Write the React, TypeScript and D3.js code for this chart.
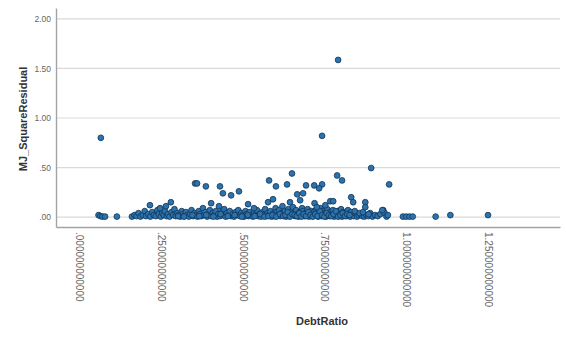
import React, { useEffect, useRef } from 'react';
import * as d3 from 'd3';

// y tick values and their labels (SPSS style)
const yTicks = [0, 0.5, 1, 1.5, 2];
const yTickLabels = ['.00', '.50', '1.00', '1.50', '2.00'];

const xTicks = [0, 0.25, 0.5, 0.75, 1, 1.25];
const xTickLabels = [
  '.000000000000',
  '.250000000000',
  '.500000000000',
  '.750000000000',
  '1.000000000000',
  '1.250000000000',
];

// points that sit clearly above the band near zero
const upperX = [
  0.067, 0.792, 0.743, 0.893, 0.948, 0.651, 0.581, 0.636, 0.602, 0.694, 0.719, 0.743,
  0.734, 0.789, 0.804, 0.667, 0.685, 0.676, 0.768, 0.777, 0.832, 0.838, 0.875, 0.875,
  0.927, 0.217, 0.248, 0.266, 0.281, 0.355, 0.361, 0.388, 0.431, 0.44, 0.465, 0.489,
  0.404, 0.517, 0.535, 0.428, 0.578, 0.593, 0.645, 0.72, 0.727, 0.753,
];
const upperY = [
  0.8, 1.586, 0.82, 0.495, 0.33, 0.44, 0.37, 0.33, 0.31, 0.32, 0.32, 0.33,
  0.29, 0.42, 0.37, 0.23, 0.24, 0.17, 0.16, 0.16, 0.2, 0.15, 0.15, 0.1,
  0.07, 0.12, 0.09, 0.11, 0.15, 0.34, 0.34, 0.31, 0.31, 0.24, 0.22, 0.26,
  0.14, 0.13, 0.09, 0.11, 0.15, 0.18, 0.15, 0.14, 0.1, 0.12,
];

// the dense band of residuals close to zero
const bandX = [
  0.06, 0.066, 0.072, 0.08, 0.116, 0.162, 0.17, 0.176, 0.182, 0.188, 0.195, 0.201,
  0.205, 0.212, 0.218, 0.224, 0.229, 0.235, 0.24, 0.244, 0.25, 0.255, 0.259, 0.263,
  0.268, 0.272, 0.277, 0.283, 0.288, 0.292, 0.296, 0.301, 0.305, 0.31, 0.314, 0.318,
  0.322, 0.327, 0.331, 0.336, 0.34, 0.344, 0.349, 0.353, 0.357, 0.362, 0.366, 0.37,
  0.374, 0.379, 0.383, 0.387, 0.392, 0.396, 0.4, 0.404, 0.409, 0.413, 0.418, 0.422,
  0.426, 0.431, 0.435, 0.439, 0.444, 0.448, 0.452, 0.457, 0.461, 0.465, 0.47, 0.474,
  0.479, 0.483, 0.487, 0.492, 0.496, 0.5, 0.505, 0.509, 0.513, 0.518, 0.522, 0.526,
  0.531, 0.535, 0.539, 0.544, 0.548, 0.552, 0.556, 0.561, 0.565, 0.569, 0.573, 0.577,
  0.581, 0.585, 0.589, 0.593, 0.597, 0.601, 0.604, 0.608, 0.612, 0.615, 0.619, 0.622,
  0.626, 0.629, 0.633, 0.636, 0.64, 0.643, 0.647, 0.65, 0.654, 0.657, 0.661, 0.664,
  0.668, 0.671, 0.675, 0.678, 0.682, 0.685, 0.689, 0.692, 0.696, 0.699, 0.703, 0.706,
  0.71, 0.713, 0.717, 0.72, 0.724, 0.727, 0.731, 0.734, 0.738, 0.741, 0.745, 0.748,
  0.752, 0.755, 0.759, 0.762, 0.766, 0.769, 0.773, 0.776, 0.78, 0.783, 0.787, 0.79,
  0.794, 0.797, 0.801, 0.804, 0.808, 0.811, 0.815, 0.818, 0.822, 0.825, 0.829, 0.832,
  0.836, 0.84, 0.845, 0.85, 0.855, 0.861, 0.866, 0.872, 0.878, 0.884, 0.89, 0.897,
  0.905, 0.913, 0.921, 0.93, 0.934, 0.94, 0.944, 0.99, 1.0, 1.01, 1.02, 1.09,
  1.135, 1.25,
  0.303, 0.321, 0.347, 0.368, 0.389, 0.411, 0.433, 0.455, 0.476, 0.498, 0.516, 0.537,
  0.554, 0.567, 0.579, 0.591, 0.603, 0.614, 0.624, 0.631, 0.638, 0.645, 0.652, 0.659,
  0.666, 0.673, 0.68, 0.687, 0.694, 0.701, 0.708, 0.715, 0.722, 0.729, 0.736, 0.743,
  0.75, 0.757, 0.764, 0.771, 0.778, 0.785, 0.792, 0.799, 0.806, 0.813, 0.82, 0.827,
  0.843, 0.858, 0.868, 0.885,
];
const bandY = [
  0.02, 0.01, 0.005, 0.005, 0.005, 0.005, 0.02, 0.01, 0.04, 0.005, 0.02, 0.06,
  0.01, 0.03, 0.005, 0.05, 0.02, 0.01, 0.07, 0.03, 0.005, 0.04, 0.02, 0.06,
  0.01, 0.03, 0.005, 0.05, 0.02, 0.08, 0.01, 0.04, 0.02, 0.005, 0.06, 0.03,
  0.01, 0.05, 0.02, 0.005, 0.03, 0.07, 0.01, 0.04, 0.02, 0.005, 0.06, 0.03,
  0.01, 0.09, 0.02, 0.05, 0.005, 0.03, 0.07, 0.01, 0.04, 0.02, 0.06, 0.005,
  0.03, 0.01, 0.05, 0.02, 0.08, 0.005, 0.04, 0.02, 0.06, 0.01, 0.03, 0.005,
  0.05, 0.02, 0.07, 0.01, 0.04, 0.02, 0.005, 0.06, 0.03, 0.01, 0.05, 0.02,
  0.005, 0.04, 0.02, 0.07, 0.01, 0.03, 0.005, 0.05, 0.02, 0.08, 0.01, 0.04,
  0.02, 0.06, 0.005, 0.03, 0.01, 0.09, 0.05, 0.02, 0.07, 0.01, 0.04, 0.11,
  0.02, 0.06, 0.005, 0.03, 0.08, 0.01, 0.05, 0.02, 0.1, 0.04, 0.01, 0.07,
  0.03, 0.005, 0.05, 0.02, 0.09, 0.06, 0.01, 0.04, 0.02, 0.08, 0.005, 0.03,
  0.06, 0.01, 0.05, 0.02, 0.07, 0.04, 0.005, 0.03, 0.09, 0.01, 0.06, 0.02,
  0.04, 0.005, 0.08, 0.03, 0.01, 0.05, 0.02, 0.07, 0.005, 0.04, 0.02, 0.06,
  0.01, 0.03, 0.08, 0.005, 0.05, 0.02, 0.04, 0.01, 0.07, 0.03, 0.005, 0.05,
  0.02, 0.01, 0.04, 0.005, 0.02, 0.03, 0.01, 0.005, 0.02, 0.01, 0.04, 0.005,
  0.02, 0.01, 0.03, 0.07, 0.04, 0.005, 0.02, 0.005, 0.005, 0.005, 0.005, 0.005,
  0.02, 0.02,
  0.01, 0.005, 0.02, 0.01, 0.02, 0.005, 0.03, 0.01, 0.02, 0.005, 0.02, 0.01,
  0.03, 0.005, 0.01, 0.02, 0.005, 0.03, 0.01, 0.02, 0.05, 0.005, 0.03, 0.02,
  0.01, 0.04, 0.005, 0.03, 0.01, 0.05, 0.02, 0.005, 0.03, 0.01, 0.06, 0.02,
  0.005, 0.04, 0.02, 0.01, 0.03, 0.06, 0.005, 0.02, 0.04, 0.01, 0.03, 0.02,
  0.06, 0.04, 0.05, 0.03,
];

const App = () => {
  const svgRef = useRef<SVGSVGElement>(null);

  useEffect(() => {
    const boxWidth = 566;
    const boxHeight = 338;
    const left = 56;
    const right = 560;
    const top = 8;
    const bottom = 227;
    const font = '"Liberation Sans", Arial, sans-serif';

    const svg = d3.select(svgRef.current)
      .attr('width', boxWidth)
      .attr('height', boxHeight);
    svg.selectAll('*').remove();

    const x = d3.scaleLinear().domain([-0.07, 1.47]).range([left, right]);
    const y = d3.scaleLinear().domain([-0.1, 2.11]).range([bottom, top]);

    // horizontal grid lines
    svg.append('g')
      .selectAll('line')
      .data(yTicks)
      .join('line')
      .attr('x1', left)
      .attr('x2', right)
      .attr('y1', d => y(d))
      .attr('y2', d => y(d))
      .attr('stroke', '#d9d9d9')
      .attr('stroke-width', 1.2);

    // y axis
    const yAxis = svg.append('g')
      .attr('transform', `translate(${left},0)`)
      .call(d3.axisLeft(y)
        .tickValues(yTicks)
        .tickSize(0)
        .tickPadding(5)
        .tickFormat((d, i) => yTickLabels[i]));
    yAxis.select('.domain').attr('stroke', '#a3a3a3').attr('stroke-width', 1.4);
    yAxis.selectAll('text')
      .attr('fill', '#666')
      .style('font-family', font)
      .style('font-size', '8.5px');

    // x axis with rotated labels
    const xAxis = svg.append('g')
      .attr('transform', `translate(0,${bottom})`)
      .call(d3.axisBottom(x)
        .tickValues(xTicks)
        .tickSize(0)
        .tickFormat((d, i) => xTickLabels[i]));
    xAxis.select('.domain').attr('stroke', '#a3a3a3').attr('stroke-width', 1.4);
    xAxis.selectAll('text')
      .attr('transform', 'rotate(90)')
      .attr('x', 5)
      .attr('y', 0)
      .attr('dy', '0.35em')
      .attr('fill', '#666')
      .style('text-anchor', 'start')
      .style('font-family', font)
      .style('font-size', '10px');

    // points
    const points = [
      ...bandX.map((v, i) => ({ x: v, y: bandY[i] })),
      ...upperX.map((v, i) => ({ x: v, y: upperY[i] })),
    ];
    svg.append('g')
      .selectAll('circle')
      .data(points)
      .join('circle')
      .attr('cx', d => x(d.x))
      .attr('cy', d => y(d.y))
      .attr('r', 2.9)
      .attr('fill', '#2c72ad')
      .attr('stroke', '#123556')
      .attr('stroke-width', 0.8);

    // axis titles
    svg.append('text')
      .attr('x', 322)
      .attr('y', 325)
      .attr('text-anchor', 'middle')
      .attr('fill', '#333')
      .style('font-family', font)
      .style('font-weight', 'bold')
      .style('font-size', '11px')
      .text('DebtRatio');

    svg.append('text')
      .attr('transform', `translate(27,${y(0.99)}) rotate(-90)`)
      .attr('text-anchor', 'middle')
      .attr('fill', '#333')
      .style('font-family', font)
      .style('font-weight', 'bold')
      .style('font-size', '11px')
      .text('MJ_SquareResidual');
  }, []);

  return (
    <svg ref={svgRef} style={{ position: 'absolute', left: 0, top: 0, background: '#fff' }}></svg>
  );
};

export default App;
